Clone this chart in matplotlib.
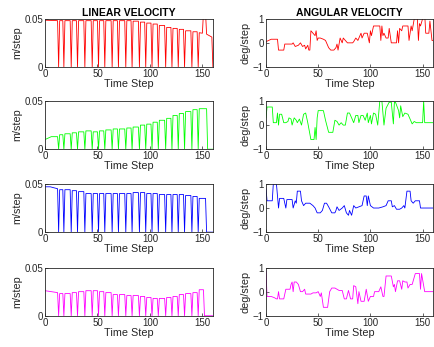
import matplotlib
matplotlib.use("Agg")
import matplotlib.pyplot as plt

plt.rcParams['font.family'] = ['Liberation Sans', 'DejaVu Sans']

# ---- linear velocity (m/step): runs between periodic drops to zero ----
drop_steps = [13, 18, 25, 31, 38, 45, 51, 57, 64, 70, 77, 83, 90, 96, 102,
              108, 115, 121, 127, 133, 140, 146]

red_lin_head_t = [0, 12]
red_lin_head_v = [0.0485, 0.048]
red_lin_levels = [0.048, 0.048, 0.048, 0.048, 0.048, 0.048, 0.048, 0.048,
                  0.048, 0.048, 0.048, 0.0475, 0.0465, 0.0455, 0.0445, 0.043,
                  0.041, 0.040, 0.039, 0.0375, 0.0365, 0.0355]
red_lin_tail_t = [150, 151, 153, 154, 159, 160]
red_lin_tail_v = [0.035, 0.056, 0.056, 0.034, 0.031, 0.0]

green_lin_head_t = [0, 6, 12]
green_lin_head_v = [0.010, 0.013, 0.013]
green_lin_levels = [0.015, 0.016, 0.017, 0.018, 0.019, 0.018, 0.019, 0.020,
                    0.021, 0.021, 0.022, 0.023, 0.025, 0.026, 0.028, 0.030,
                    0.032, 0.035, 0.037, 0.039, 0.041, 0.042]
green_lin_stop = 155

blue_lin_head_t = [0, 5, 12]
blue_lin_head_v = [0.047, 0.047, 0.045]
blue_lin_levels = [0.044, 0.044, 0.043, 0.042, 0.040, 0.040, 0.040, 0.040,
                   0.040, 0.040, 0.040, 0.041, 0.041, 0.040, 0.040, 0.039,
                   0.039, 0.039, 0.039, 0.038, 0.037, 0.035]
blue_lin_stop = 154

mag_lin_head_t = [0, 12]
mag_lin_head_v = [0.026, 0.024]
mag_lin_levels = [0.023, 0.023, 0.024, 0.025, 0.026, 0.026, 0.025, 0.024,
                  0.022, 0.022, 0.021, 0.021, 0.020, 0.019, 0.018, 0.018,
                  0.019, 0.020, 0.022, 0.023, 0.024, 0.027]
mag_lin_stop = 152

# ---- angular velocity (deg/step) ----
red_ang_t = [0, 5, 11, 12, 17, 18, 25, 26, 28, 31, 33, 35, 37, 38, 40, 41, 42,
             43, 45, 47, 48, 49, 50, 52, 55, 57, 60, 62, 65, 67, 68, 69, 71, 73,
             74, 76, 78, 83, 84, 86, 88, 91, 92, 94, 97, 99, 100, 101, 103, 109,
             110, 111, 112, 113, 115, 117, 118, 120, 125, 126, 127, 128, 130,
             131, 135, 136, 137, 139, 140, 142, 145, 146, 147, 148, 150, 151,
             152, 153, 156, 157, 158, 159, 160]
red_ang_v = [0.05, 0.15, 0.15, -0.3, -0.3, -0.05, -0.05, 0.0, -0.15, -0.1, 0.0,
             -0.15, -0.1, -0.25, -0.1, -0.3, -0.3, 0.5, 0.4, 0.3, 0.5, 0.1, 0.2,
             0.2, 0.15, 0.1, -0.2, -0.3, -0.3, -0.2, -0.05, -0.3, 0.2, 0.0, 0.2,
             0.1, 0.0, 0.0, 0.05, 0.2, 0.1, 0.4, 0.2, 0.4, 0.4, 0.0, 0.5, 0.3,
             0.7, 0.7, 0.1, 0.7, 0.3, 0.4, 0.2, 0.2, 0.6, 0.0, 0.0, 0.5, 0.0,
             0.6, 0.5, 0.7, 0.7, 0.7, 0.1, 0.7, 0.5, 1.0, 1.0, 0.1, 0.8, 0.7,
             1.0, 1.2, 1.2, 0.4, 0.4, 0.9, 0.5, 0.1, 0.1]

green_ang_t = [0, 1, 6, 7, 10, 11, 12, 13, 15, 17, 19, 21, 22, 24, 25, 27, 29,
               30, 32, 34, 36, 38, 40, 43, 46, 47, 48, 49, 50, 55, 57, 60, 64,
               66, 68, 70, 72, 74, 76, 78, 80, 82, 84, 86, 88, 89, 91, 93, 95,
               97, 98, 100, 101, 103, 105, 107, 109, 111, 113, 115, 118, 120,
               122, 123, 124, 127, 128, 129, 131, 133, 136, 138, 140, 142, 144,
               150, 151, 152, 160]
green_ang_v = [0.3, 0.75, 0.75, 0.1, 0.1, 0.5, 0.0, 0.45, 0.45, 0.1, 0.1, 0.15,
               0.3, 0.25, 0.0, 0.3, 0.2, 0.1, 0.25, 0.0, 0.45, 0.5, 0.1, -0.6,
               -0.6, -0.1, -0.6, 0.3, 0.6, 0.6, 0.2, -0.3, -0.3, 0.2, 0.15, 0.0,
               0.1, 0.0, 0.0, 0.5, 0.5, 0.3, 0.1, 0.4, 0.4, 0.1, 0.4, 0.4, 0.2,
               0.5, 0.1, 0.4, 0.05, 0.5, 0.45, 0.0, 1.0, 1.0, 0.0, 0.7, 0.95,
               0.95, 0.05, 0.95, 0.95, 0.6, 0.3, 0.8, 0.35, 0.5, 0.45, 0.25,
               0.05, 0.15, 0.1, 0.1, 1.0, 0.1, 0.1]

blue_ang_t = [0, 1, 6, 7, 10, 12, 13, 17, 19, 20, 25, 26, 28, 29, 30, 33, 34,
              36, 38, 42, 45, 47, 49, 52, 54, 56, 58, 60, 63, 66, 67, 68, 70,
              73, 75, 77, 79, 80, 82, 84, 86, 89, 92, 94, 96, 97, 98, 100, 103,
              108, 112, 115, 117, 120, 121, 123, 125, 128, 130, 132, 133, 135,
              138, 139, 141, 143, 147, 148, 160]
blue_ang_v = [0.8, 0.3, 0.3, 1.0, 1.0, 0.0, 0.4, 0.4, 0.0, 0.35, 0.35, 0.0, 0.3,
              0.2, 0.7, 0.7, 0.3, 0.1, 0.2, 0.2, 0.1, 0.0, -0.2, -0.2, -0.1,
              0.2, 0.2, 0.05, -0.2, -0.2, -0.1, 0.05, -0.1, 0.0, 0.1, -0.2,
              -0.3, -0.1, -0.3, 0.1, 0.0, 0.05, 0.1, 0.5, 0.5, 0.1, 0.5, 0.1,
              0.0, 0.0, 0.05, 0.1, 0.3, 0.3, 0.05, 0.1, -0.05, -0.05, 0.0, 0.1,
              0.0, 0.7, 0.7, 0.3, 0.2, 0.3, 0.3, 0.0, 0.0]

mag_ang_t = [0, 1, 5, 8, 10, 11, 12, 13, 17, 19, 23, 24, 25, 26, 27, 29, 31, 33,
             35, 37, 38, 43, 45, 48, 50, 52, 53, 55, 59, 61, 63, 66, 68, 70, 73,
             75, 77, 79, 81, 83, 84, 86, 88, 89, 91, 94, 96, 98, 100, 103, 104,
             108, 110, 112, 113, 115, 120, 122, 123, 124, 126, 128, 130, 131,
             133, 135, 136, 138, 140, 143, 147, 148, 149, 152, 160]
mag_ang_v = [0.85, -0.2, -0.2, -0.25, -0.3, -0.3, 0.0, -0.3, -0.3, 0.1, 0.1,
             0.3, 0.4, 0.0, 0.4, 0.4, 0.3, 0.0, 0.0, 0.1, -0.1, -0.1, -0.05,
             -0.05, 0.0, -0.2, -0.05, -0.65, -0.65, 0.0, 0.15, 0.15, 0.1, 0.05,
             0.05, -0.3, -0.3, 0.05, -0.3, -0.3, 0.25, 0.2, -0.5, 0.0, -0.4,
             -0.4, 0.1, -0.4, -0.2, -0.2, 0.0, 0.0, 0.2, -0.2, -0.2, 0.65, 0.65,
             0.2, 0.3, 0.0, 0.45, 0.45, 0.1, 0.45, 0.4, 0.4, 0.15, 0.3, 0.3,
             0.75, 0.75, 0.1, 0.75, 0.0, 0.0]


def pulse_line(head_t, head_v, drops, levels, tail_t, tail_v):
    """Runs at the read level, each drop a one-step dip to zero."""
    t, v = list(head_t), list(head_v)
    for d, lvl in zip(drops, levels):
        t += [d - 1, d, d + 1]
        v += [v[-1], 0.0, lvl]
    return t + list(tail_t), v + list(tail_v)


lin_series = [
    pulse_line(red_lin_head_t, red_lin_head_v, drop_steps, red_lin_levels,
               red_lin_tail_t, red_lin_tail_v),
    pulse_line(green_lin_head_t, green_lin_head_v, drop_steps + [green_lin_stop],
               green_lin_levels + [0.0], [160], [0.0]),
    pulse_line(blue_lin_head_t, blue_lin_head_v, drop_steps + [blue_lin_stop],
               blue_lin_levels + [0.0], [160], [0.0]),
    pulse_line(mag_lin_head_t, mag_lin_head_v, drop_steps + [mag_lin_stop],
               mag_lin_levels + [0.0], [160], [0.0]),
]
ang_series = [(red_ang_t, red_ang_v), (green_ang_t, green_ang_v),
              (blue_ang_t, blue_ang_v), (mag_ang_t, mag_ang_v)]
colors = ['#ff0000', '#00ff00', '#0000ff', '#ff00ff']

fig = plt.figure(figsize=(4.35, 3.47), dpi=100)
edge = '#262626'
bottoms = [0.807, 0.570, 0.331, 0.090]
height = 0.139


def style(ax):
    for s in ax.spines.values():
        s.set_color(edge)
        s.set_linewidth(0.6)
    ax.tick_params(direction='in', length=2.5, width=0.5, colors=edge,
                   labelsize=7, pad=1.5, labelcolor=edge)
    ax.set_xlim(0, 160)
    ax.set_xticks([0, 50, 100, 150])
    ax.set_xlabel('Time Step', fontsize=7.8, labelpad=0, color=edge)


for i in range(4):
    axl = fig.add_axes([0.1034, bottoms[i], 0.386, height])
    t, v = lin_series[i]
    axl.plot(t, v, color=colors[i], lw=0.6)
    style(axl)
    axl.set_ylim(0, 0.05)
    axl.set_yticks([0, 0.05])
    axl.set_yticklabels(['0', '0.05'])
    axl.set_ylabel('m/step', fontsize=7.8, labelpad=1, color=edge)

    axr = fig.add_axes([0.6115, bottoms[i], 0.384, height])
    t, v = ang_series[i]
    axr.plot(t, v, color=colors[i], lw=0.6)
    style(axr)
    axr.set_ylim(-1, 1)
    axr.set_yticks([-1, 0, 1])
    axr.set_ylabel('deg/step', fontsize=7.8, labelpad=2, color=edge)

    if i == 0:
        axl.set_title('LINEAR VELOCITY', fontsize=7.5, fontweight='bold', pad=2)
        axr.set_title('ANGULAR VELOCITY', fontsize=7.5, fontweight='bold', pad=2)

fig.savefig('out.png', dpi=100)
